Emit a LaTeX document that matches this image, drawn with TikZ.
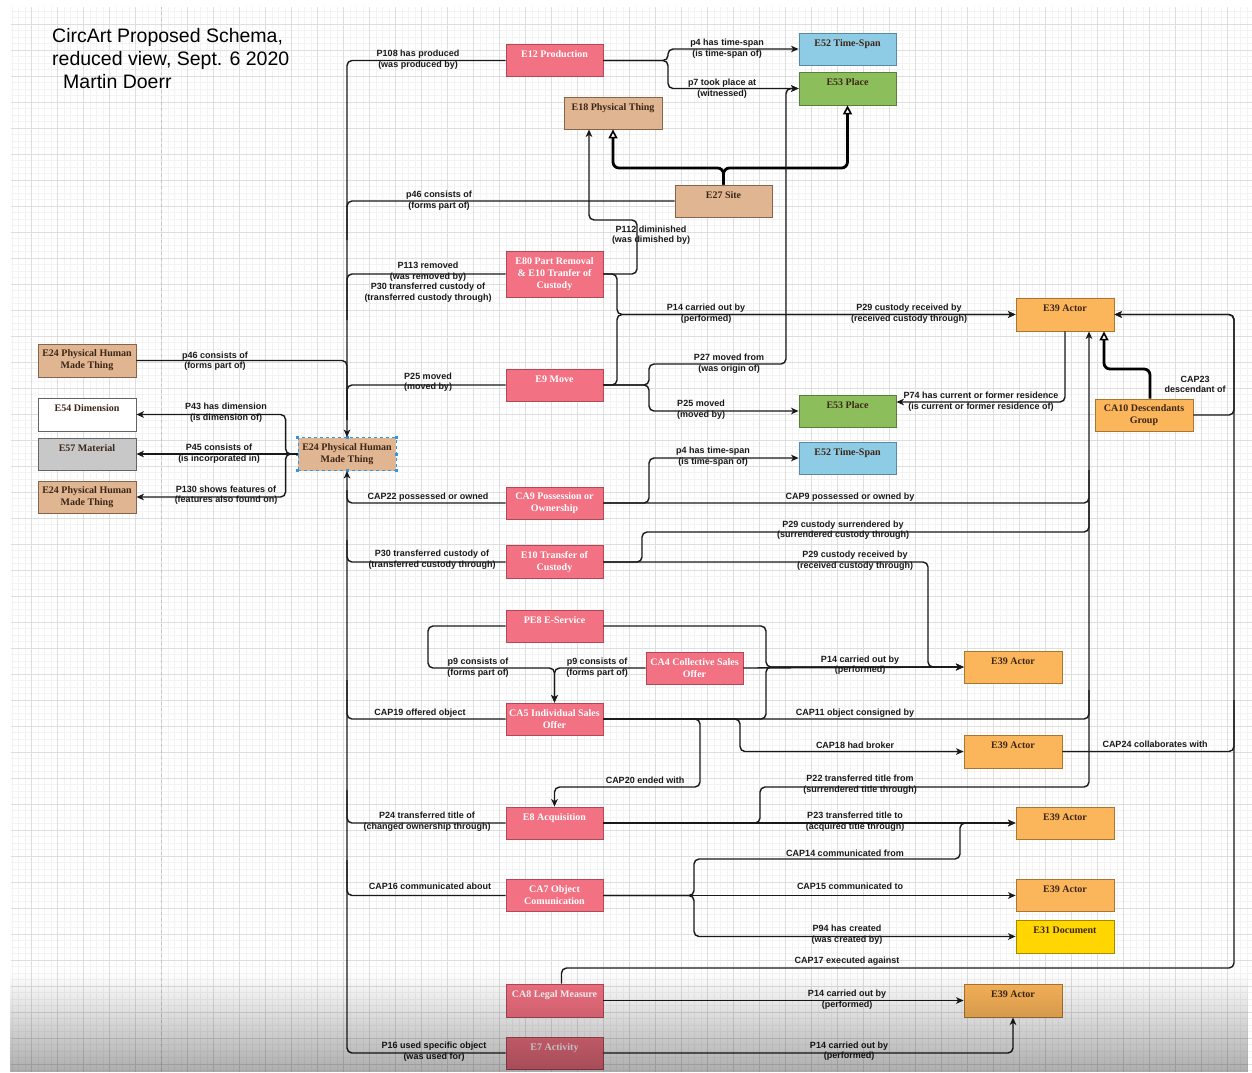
\documentclass[tikz,border=0pt]{standalone}
\usepackage{fontspec}
\setmainfont{Liberation Serif}
\setsansfont{Liberation Sans}
\usetikzlibrary{arrows.meta,calc,fadings}
\definecolor{pinkf}{RGB}{242,113,130}
\definecolor{pinkd}{RGB}{178,72,86}
\definecolor{tanf}{RGB}{223,181,146}
\definecolor{tand}{RGB}{135,100,72}
\definecolor{bluef}{RGB}{142,204,230}
\definecolor{blued}{RGB}{88,138,166}
\definecolor{greenf}{RGB}{140,191,92}
\definecolor{greend}{RGB}{88,128,56}
\definecolor{orgf}{RGB}{251,181,90}
\definecolor{orgd}{RGB}{168,118,48}
\definecolor{yelf}{RGB}{255,214,0}
\definecolor{yeld}{RGB}{165,138,0}
\definecolor{grayf}{RGB}{200,200,200}
\definecolor{grayd}{RGB}{100,100,100}
\definecolor{boxtxt}{RGB}{60,38,22}
\definecolor{selblue}{RGB}{50,150,230}
\definecolor{gridmin}{RGB}{243,243,243}
\definecolor{gridmaj}{RGB}{222,222,222}
\definecolor{edgec}{RGB}{25,25,25}
\begin{document}
\begin{tikzpicture}[x=1pt,y=-1pt,
  cbox/.style={rectangle, line width=0.8pt, minimum width=97pt, minimum height=32pt, inner sep=0pt, align=center, font=\fontsize{10}{12}\selectfont\bfseries},
  pbox/.style={cbox, fill=pinkf, draw=pinkd, text=white},
  tbox/.style={cbox, fill=tanf, draw=tand, text=boxtxt},
  bbox/.style={cbox, fill=bluef, draw=blued, text=boxtxt},
  gbox/.style={cbox, fill=greenf, draw=greend, text=boxtxt},
  obox/.style={cbox, fill=orgf, draw=orgd, text=boxtxt},
  ybox/.style={cbox, fill=yelf, draw=yeld, text=boxtxt},
  wbox/.style={cbox, fill=white, draw=grayd, text=boxtxt},
  mbox/.style={cbox, fill=grayf, draw=grayd, text=boxtxt},
  lbl/.style={font=\sffamily\bfseries\fontsize{9}{10.5}\selectfont, align=center, inner sep=0pt, text=edgec},
  ed/.style={draw=edgec, line width=1.4pt, rounded corners=5pt},
  arr/.style={ed, -{Stealth[length=7.5pt,width=6.5pt,inset=2pt]}},
  isa/.style={draw=black, line width=2.8pt, rounded corners=6pt, -{Triangle[length=9pt,width=9pt,fill=white,line width=1.6pt]}}
]
\useasboundingbox (0,0) rectangle (1252,1072);
\fill[white] (0,0) rectangle (1252,1072);
% grid
\begin{scope}
\clip (11,7) rectangle (1252,1072);
\foreach \k in {0,...,193} \draw[gridmin, line width=0.5pt] ({5.7+6.5*\k},0) -- ({5.7+6.5*\k},1072);
\foreach \k in {-4,...,162} \draw[gridmin, line width=0.5pt] (0,{24+6.5*\k}) -- (1252,{24+6.5*\k});
\foreach \k in {0,...,48} \draw[gridmaj, line width=0.6pt] ({5.7+26*\k},0) -- ({5.7+26*\k},1072);
\foreach \k in {-1,...,41} \draw[gridmaj, line width=0.6pt] (0,{24+26*\k}) -- (1252,{24+26*\k});
\draw[gray!45, dashed, line width=0.6pt] (161.7,0) -- (161.7,1072);
\end{scope}

% title
\node[anchor=north west, font=\sffamily\fontsize{19.5}{23}\selectfont, align=left, inner sep=0pt] (title) at (52,28) {CircArt Proposed Schema,\\reduced view, Sept. 6 2020\\\hspace{11pt}Martin Doerr};

% boxes
\node[pbox] (e12) at (554.5,60.5) {E12 Production\\\mbox{}};
\node[tbox, minimum width=98pt] (e18) at (613,113) {E18 Physical Thing\\\mbox{}};
\node[tbox] (e27) at (723.5,201) {E27 Site\\\mbox{}};
\node[bbox] (ts1) at (847.5,49) {E52 Time-Span\\\mbox{}};
\node[gbox, minimum height=33pt] (pl1) at (847.5,88.5) {E53 Place\\\mbox{}};
\node[pbox, minimum height=46pt] (e80) at (554.5,274) {E80 Part Removal\\\& E10 Tranfer of\\Custody};
\node[pbox] (e9) at (554.5,385) {E9 Move\\\mbox{}};
\node[pbox] (ca9) at (554.5,503) {CA9 Possession or\\Ownership};
\node[gbox] (pl2) at (847.5,411) {E53 Place\\\mbox{}};
\node[bbox] (ts2) at (847.5,458) {E52 Time-Span\\\mbox{}};
\node[obox, minimum width=98pt, minimum height=33pt] (act1) at (1065,314.5) {E39 Actor\\\mbox{}};
\node[obox, minimum width=98pt] (ca10) at (1144,415) {CA10 Descendants\\Group};
\node[tbox, minimum width=98pt, minimum height=33pt] (e24a) at (87,360.5) {E24 Physical Human\\Made Thing};
\node[wbox, minimum width=98pt, minimum height=33pt] (e54) at (87,414.5) {E54 Dimension\\\mbox{}};
\node[mbox, minimum width=98pt] (e57) at (87,454) {E57 Material\\\mbox{}};
\node[tbox, minimum width=98pt] (e24c) at (87,497) {E24 Physical Human\\Made Thing};
\node[tbox, draw=selblue, dashed, minimum width=98pt, minimum height=33pt] (e24) at (347,454) {E24 Physical Human\\Made Thing};
\node[pbox, minimum height=33pt] (e10) at (554.5,562) {E10 Transfer of\\Custody};
\node[pbox] (pe8) at (554.5,626) {PE8 E-Service\\\mbox{}};
\node[pbox] (ca4) at (694.5,668) {CA4 Collective Sales\\Offer};
\node[pbox] (ca5) at (554.5,719) {CA5 Individual Sales\\Offer};
\node[pbox] (e8) at (554.5,823) {E8 Acquisition\\\mbox{}};
\node[pbox] (ca7) at (554.5,895.5) {CA7 Object\\Comunication};
\node[pbox, minimum height=33pt] (ca8) at (554.5,1000.5) {CA8 Legal Measure\\\mbox{}};
\node[pbox] (e7) at (554.5,1053) {E7 Activity\\\mbox{}};
\node[obox, minimum width=98pt] (act2) at (1013,667) {E39 Actor\\\mbox{}};
\node[obox, minimum width=98pt, minimum height=33pt] (act3) at (1013,751.5) {E39 Actor\\\mbox{}};
\node[obox, minimum width=98pt] (act4) at (1065,823) {E39 Actor\\\mbox{}};
\node[obox, minimum width=98pt] (act5) at (1065,895.5) {E39 Actor\\\mbox{}};
\node[ybox, minimum width=98pt, minimum height=33pt] (doc) at (1065,936.5) {E31 Document\\\mbox{}};
\node[obox, minimum width=98pt, minimum height=33pt] (act6) at (1013,1000.5) {E39 Actor\\\mbox{}};
\foreach \a [count=\i] in {north west,north,north east,east,south east,south,south west,west}
  \node[fill=selblue, minimum size=3pt, inner sep=0pt] (hd\i) at (e24.\a) {};

% spine
\draw[arr] (e12.west) -| (e24.north);
\draw[ed] (e27.west) -| (347,240);
\draw[ed] (e80.west) -| (347,320);
\draw[ed] (e9.west) -| (347,420);
\draw[ed] (e24a.east) -| (347,420);
\draw[arr] (e7.west) -| (e24.south);
\draw[ed] (ca9.west) -| (347,490);
\draw[ed] (e10.west) -| (347,540);
\draw[ed] (ca5.west) -| (347,680);
\draw[ed] (e8.west) -| (347,790);
\draw[ed] (ca7.west) -| (347,860);
% left bus
\draw[arr] (e24.west) -- ++(-12,0) |- (e54.east);
\draw[arr] (e24.west) -- (e57.east);
\draw[arr] (e24.west) -- ++(-12,0) |- (e24c.east);
% top right
\draw[arr] (e12.east) -- (668,60.5) |- (ts1.west);
\draw[arr] (e12.east) -- (668,60.5) |- (pl1.west);
\draw[isa] (e27.north) -- (723.5,168) -| (e18.south);
\draw[isa] (e27.north) -- (723.5,168) -| (pl1.south);
% P112
\draw[arr] (e80.east) -- (637,274) -- (637,220) -- (589,220) -- ($(e18.south)+(-24,0)$);
% P14 / P29 to act1
\draw[arr] (e80.east) -- (617,274) -- (617,314.5) -- (act1.west);
\draw[arr] (e9.east) -- (617,385) -- (617,314.5) -- (act1.west);
% E9 forks
\draw[arr] (e9.east) -- (649,385) -- (649,364) -- (786,364) -- (786,88.5) -- (pl1.west);
\draw[arr] (e9.east) -- (649,385) |- (pl2.west);
% CA9 time-span
\draw[arr] (ca9.east) -- (649,503) -- (649,458) -- (ts2.west);
% P74
\draw[arr] (act1.south) -- (1065,402) -- ($(pl2.east)+(0,-9)$);
% CA10 isA
\draw[isa] ($(ca10.north)+(6,0)$) -- (1150,369) -- (1104,369) -- ($(act1.south)+(39,0)$);
% CAP23
\draw[arr] (ca10.east) -- (1234,415) -- (1234,314.5) -- (act1.east);
% CAP17
\draw[arr] ($(ca8.north)+(7,0)$) -- (561.5,968) -- (1234,968) -- (1234,314.5) -- (act1.east);
% CAP24
\draw[ed] (act3.east) -| (1234,700);
% x=1089 bus
\draw[arr] (e8.east) -- (760,823) -- (760,787) -- (1089,787) -- ($(act1.south)+(24,0)$);
\draw[ed] (ca9.east) -| (1089,470);
\draw[ed] (e10.east) -- (642,562) -- (642,532) -| (1089,500);
\draw[ed] (ca5.east) -| (1089,690);
% P29 received
\draw[arr] (e10.east) -- (928,562) -- (928,667) -- (act2.west);
% P14 to act2
\draw[arr] (ca4.east) -- (act2.west);
\draw[arr] (pe8.east) -- (766,626) -- (766,667) -- (act2.west);
\draw[arr] (ca5.east) -- (766,719) -- (766,667) -- (act2.west);
% CAP18
\draw[arr] (ca5.east) -- (740,719) -- (740,751.5) -- (act3.west);
% CAP20
\draw[arr] (ca5.east) -- (700,719) -- (700,787) -- (554.5,787) -- (e8.north);
% p9
\draw[arr] (pe8.west) -- (428,626) -- (428,668) -- (554.5,668) -- (ca5.north);
\draw[arr] (ca4.west) -- (554.5,668) -- (ca5.north);
% P23, CAP14, CAP15, P94
\draw[arr] (e8.east) -- (act4.west);
\draw[arr] (ca7.east) -- (694,895.5) -- (694,859) -- (960,859) -- (960,823) -- (act4.west);
\draw[arr] (ca7.east) -- (act5.west);
\draw[arr] (ca7.east) -- (694,895.5) -- (694,936.5) -- (doc.west);
% CA8, E7
\draw[arr] (ca8.east) -- (act6.west);
\draw[arr] (e7.east) -- (1013,1053) -- (act6.south);

% labels
\node[lbl] (l1) at (418,59.5) {P108 has produced\\(was produced by)};
\node[lbl] (l2) at (439,200.5) {p46 consists of\\(forms part of)};
\node[lbl] (l3) at (428,282) {P113 removed\\(was removed by)\\P30 transferred custody of\\(transferred custody through)};
\node[lbl] (l4) at (215,361) {p46 consists of\\(forms part of)};
\node[lbl] (l5) at (428,382) {P25 moved\\(moved by)};
\node[lbl] (l6) at (226,412.5) {P43 has dimension\\(is dimension of)};
\node[lbl] (l7) at (219,453.5) {P45 consists of\\(is incorporated in)};
\node[lbl] (l8) at (226,495) {P130 shows features of\\(features also found on)};
\node[lbl] (l9) at (428,497) {CAP22 possessed or owned};
\node[lbl] (l10) at (432,559.5) {P30 transferred custody of\\(transferred custody through)};
\node[lbl] (l11) at (420,713) {CAP19 offered object};
\node[lbl] (l12) at (427,821.5) {P24 transferred title of\\(changed ownership through)};
\node[lbl] (l13) at (430,886) {CAP16 communicated about};
\node[lbl] (l14) at (434,1051.5) {P16 used specific object\\(was used for)};
\node[lbl] (l15) at (727,48.5) {p4 has time-span\\(is time-span of)};
\node[lbl] (l16) at (722,88.5) {p7 took place at\\(witnessed)};
\node[lbl] (l17) at (651,235) {P112 diminished\\(was dimished by)};
\node[lbl] (l18) at (706,313.5) {P14 carried out by\\(performed)};
\node[lbl] (l19) at (909,313.5) {P29 custody received by\\(received custody through)};
\node[lbl] (l20) at (729,363.5) {P27 moved from\\(was origin of)};
\node[lbl] (l21) at (701,409.5) {P25 moved\\(moved by)};
\node[lbl] (l22) at (981,401.5) {P74 has current or former residence\\(is current or former residence of)};
\node[lbl] (l23) at (1195,384.5) {CAP23\\descendant of};
\node[lbl] (l24) at (713,456.5) {p4 has time-span\\(is time-span of)};
\node[lbl] (l25) at (850,497) {CAP9 possessed or owned by};
\node[lbl] (l26) at (843,530) {P29 custody surrendered by\\(surrendered custody through)};
\node[lbl] (l27) at (855,560.5) {P29 custody received by\\(received custody through)};
\node[lbl] (l28) at (478,667.5) {p9 consists of\\(forms part of)};
\node[lbl] (l29) at (597,667.5) {p9 consists of\\(forms part of)};
\node[lbl] (l30) at (860,665) {P14 carried out by\\(performed)};
\node[lbl] (l31) at (855,713) {CAP11 object consigned by};
\node[lbl] (l32) at (855,745) {CAP18 had broker};
\node[lbl] (l33) at (1155,744) {CAP24 collaborates with};
\node[lbl] (l34) at (645,780) {CAP20 ended with};
\node[lbl] (l35) at (860,784.5) {P22 transferred title from\\(surrendered title through)};
\node[lbl] (l36) at (855,821.5) {P23 transferred title to\\(acquired title through)};
\node[lbl] (l37) at (845,853) {CAP14 communicated from};
\node[lbl] (l38) at (850,886) {CAP15 communicated to};
\node[lbl] (l39) at (847,934.5) {P94 has created\\(was created by)};
\node[lbl] (l40) at (847,961) {CAP17 executed against};
\node[lbl] (l41) at (847,999.5) {P14 carried out by\\(performed)};
\node[lbl] (l42) at (849,1051) {P14 carried out by\\(performed)};

% bottom shading of the screenshot
\fill[black, opacity=0.32, path fading=north] (11,972) rectangle (1252,1072);
\end{tikzpicture}
\end{document}
